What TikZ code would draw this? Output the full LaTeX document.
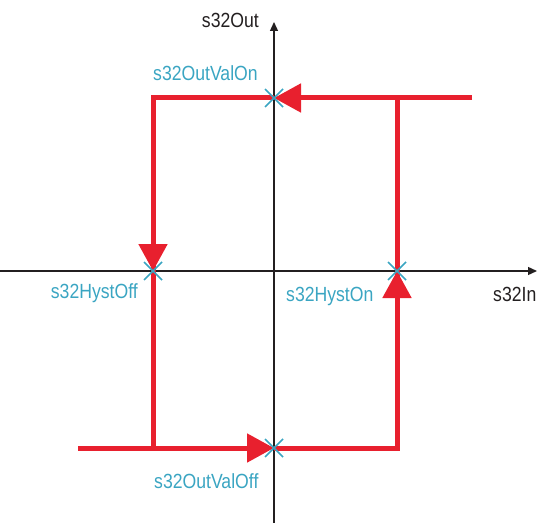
\documentclass[tikz,border=0pt]{standalone}
\usepackage{fontspec}
\setmainfont{Liberation Sans}[FakeStretch=0.86]
\usetikzlibrary{arrows.meta,calc}
\definecolor{hred}{HTML}{E8202E}
\definecolor{hteal}{HTML}{3AA5C2}
\definecolor{hblack}{HTML}{231F20}
\tikzset{
  axisline/.style={draw=hblack, line width=1.3bp, -{Triangle[length=9bp,width=8bp]}},
  redline/.style={draw=hred, line width=5bp, line join=miter},
  redtip/.style={redline, -{Triangle[length=27bp,width=28bp]}},
  crossmark/.style={draw=hteal, line width=1.6bp},
  lbl/.style={font=\fontsize{20.5bp}{22bp}\selectfont, inner sep=0pt},
  tlbl/.style={lbl, text=hteal},
  blbl/.style={lbl, text=hblack}
}
\begin{document}
\begin{tikzpicture}[x=1bp,y=-1bp]
\useasboundingbox (0,0) rectangle (539,523);
% coordinates
\coordinate (xs) at (0,271);
\coordinate (xe) at (537,271);
\coordinate (ys) at (274,523);
\coordinate (ye) at (274,22);
\coordinate (on) at (274,98);
\coordinate (off) at (274,448);
\coordinate (hoff) at (153,271);
\coordinate (hon) at (397,271);
\coordinate (tr) at (472,98);
\coordinate (tl) at (153,98);
\coordinate (bl) at (78,448);
\coordinate (bj) at (153,448);
\coordinate (br) at (397,448);
\coordinate (rt) at (397,98);
% axes
\draw[axisline] (xs) -- (xe);
\draw[axisline] (ys) -- (ye);
% red hysteresis
\draw[redline] (on) -- (tl) -- (hoff);
\draw[redline] (hoff) -- (bj);
\draw[redline] (off) -- (br) -- (hon);
\draw[redline] (hon) -- (rt);
\draw[redtip] (tr) -- (on);
\draw[redtip] (tl) -- (hoff);
\draw[redtip] (bl) -- (off);
\draw[redtip] (br) -- (hon);
% crosses
\foreach \p in {on,off,hoff,hon}{
  \draw[crossmark] ($(\p)+(-9,-9)$) -- ($(\p)+(9,9)$);
  \draw[crossmark] ($(\p)+(-9,9)$) -- ($(\p)+(9,-9)$);
}
% labels
\node[blbl, anchor=base east] (lout) at (259,28) {s32Out};
\node[blbl, anchor=base west] (lin) at (493,301) {s32In};
\node[tlbl, anchor=base west] (lon) at (153,81) {s32OutValOn};
\node[tlbl, anchor=base east] (lhoff) at (138,298) {s32HystOff};
\node[tlbl, anchor=base west] (lhon) at (286,301) {s32HystOn};
\node[tlbl, anchor=base west] (loff) at (154,488) {s32OutValOff};
\end{tikzpicture}
\end{document}
